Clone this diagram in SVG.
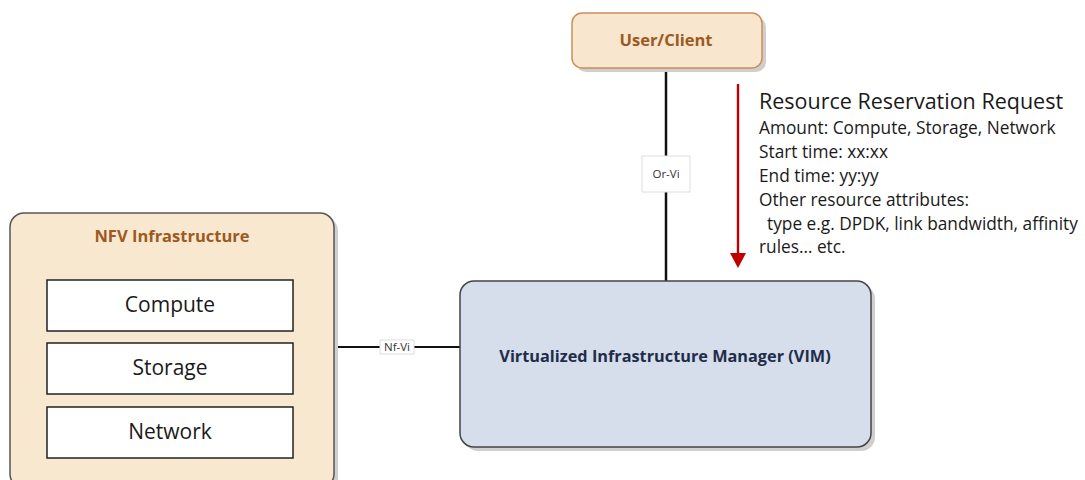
<svg xmlns="http://www.w3.org/2000/svg" width="1085" height="480" viewBox="0 0 1085 480">
<style>
.t{font-family:"Open Sans","Liberation Sans",sans-serif}
.title{font-weight:bold;font-size:16.5px;fill:#9C5A22;text-anchor:middle}
.res{font-size:21px;fill:#1a1a1a;text-anchor:middle}
.box{fill:#ffffff;stroke:#222;stroke-width:1.5}
.shadow{fill:#cfcfcf}
.lbl{font-size:11.5px;fill:#333;text-anchor:middle}
.req{font-size:17.3px;fill:#1a1a1a}
</style>
<defs>
<marker id="redhead" markerWidth="16" markerHeight="18" refX="0" refY="8" orient="auto" markerUnits="userSpaceOnUse">
<path d="M0,0 L15,8 L0,16 Z" fill="#C00000"/>
</marker>
</defs>
<rect width="1085" height="480" fill="#ffffff"/>
<g id="connectors">
<line x1="666" y1="68" x2="666" y2="281" stroke="#111" stroke-width="2.5"/>
<rect x="642" y="156" width="48" height="36" fill="#fff" stroke="#ddd" stroke-width="1"/>
<text class="t lbl" x="666" y="178">Or-Vi</text>
<line x1="334" y1="347" x2="460" y2="347" stroke="#111" stroke-width="2.2"/>
<rect x="380" y="340" width="34" height="14" fill="#fff" stroke="#ddd" stroke-width="1"/>
<text class="t lbl" x="397" y="351">Nf-Vi</text>
</g>
<g id="user-client">
<rect class="shadow" x="576" y="17" width="190" height="55" rx="10"/>
<rect x="572" y="13" width="190" height="55" rx="10" fill="#F8E6CF" stroke="#C98F5C" stroke-width="1.5"/>
<text class="t title" x="666" y="46" font-size="17">User/Client</text>
</g>
<g id="nfv-infrastructure">
<rect class="shadow" x="14" y="217" width="324" height="275" rx="14"/>
<rect x="10" y="213" width="324" height="275" rx="14" fill="#F8E8CF" stroke="#555" stroke-width="1.5"/>
<text class="t title" x="172" y="242">NFV Infrastructure</text>
</g>
<g id="compute">
<rect class="box" x="47" y="280" width="246" height="51"/>
<text class="t res" x="170" y="312">Compute</text>
</g>
<g id="storage">
<rect class="box" x="47" y="343" width="246" height="51"/>
<text class="t res" x="170" y="375">Storage</text>
</g>
<g id="network">
<rect class="box" x="47" y="407" width="246" height="51"/>
<text class="t res" x="170" y="439">Network</text>
</g>
<g id="vim">
<rect class="shadow" x="464" y="285" width="411" height="166" rx="14"/>
<rect x="460" y="281" width="411" height="166" rx="14" fill="#D5DEEA" stroke="#444" stroke-width="1.5"/>
<text class="t" x="665" y="362" font-size="16.3" font-weight="bold" fill="#1F2D4A" text-anchor="middle">Virtualized Infrastructure Manager (VIM)</text>
</g>
<g id="request">
<line x1="738" y1="84" x2="738" y2="253" stroke="#C00000" stroke-width="2.4" marker-end="url(#redhead)"/>
<text class="t" x="759" y="109" font-size="21.5" fill="#1a1a1a">Resource Reservation Request</text>
<text class="t req" x="759" y="134">Amount: Compute, Storage, Network</text>
<text class="t req" x="759" y="158">Start time: xx:xx</text>
<text class="t req" x="759" y="182">End time: yy:yy</text>
<text class="t req" x="759" y="206">Other resource attributes:</text>
<text class="t req" x="767" y="230">type e.g. DPDK, link bandwidth, affinity</text>
<text class="t req" x="759" y="253">rules… etc.</text>
</g>
</svg>
